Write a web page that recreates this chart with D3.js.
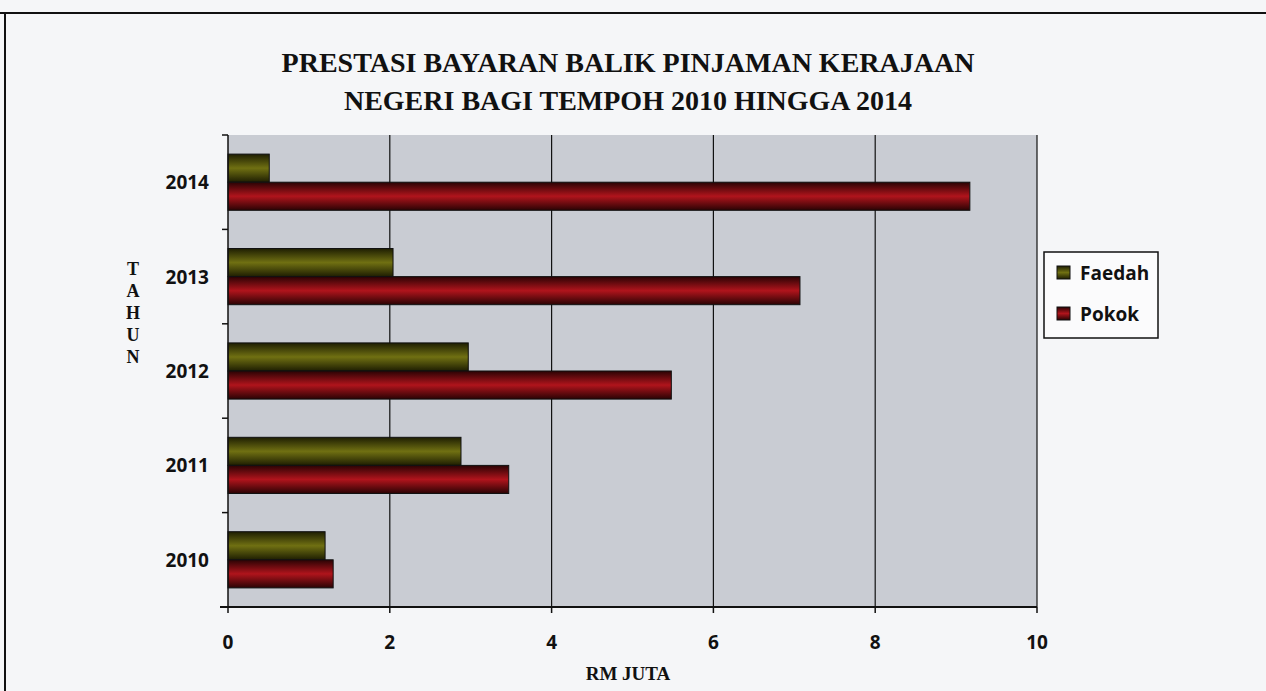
<!DOCTYPE html>
<html>
<head>
<meta charset="utf-8">
<script src="https://cdn.jsdelivr.net/npm/d3@7"></script>
<style>
  body { margin: 0; background: #f5f6f8; }
  svg { display: block; }
</style>
</head>
<body>
<div id="chart"></div>
<script>
// data
var years = ["2014", "2013", "2012", "2011", "2010"],
    series = ["Faedah", "Pokok"],
    faedah = [0.51, 2.04, 2.97, 2.88, 1.2],
    pokok = [9.17, 7.07, 5.48, 3.47, 1.3],
    xTicks = [0, 2, 4, 6, 8, 10];

var width = 1266,
    height = 691;

var plot = {left: 228, right: 1037, top: 135, bottom: 607};

var svg = d3.select("#chart").append("svg")
    .attr("width", width)
    .attr("height", height);

// gradients for the shaded bars
var defs = svg.append("defs");
var grads = {
    Faedah: ["#1e1e02", "#707012", "#1e1e02"],
    Pokok: ["#2a0304", "#b0141c", "#2a0304"]
};
series.forEach(function (s) {
    var g = defs.append("linearGradient")
        .attr("id", "grad_" + s)
        .attr("x1", 0).attr("y1", 0).attr("x2", 0).attr("y2", 1);
    g.append("stop").attr("offset", "0%").attr("stop-color", grads[s][0]);
    g.append("stop").attr("offset", "50%").attr("stop-color", grads[s][1]);
    g.append("stop").attr("offset", "100%").attr("stop-color", grads[s][2]);
});

// outer frame
svg.append("line").attr("x1", 0).attr("x2", width).attr("y1", 13).attr("y2", 13)
    .attr("stroke", "#111").attr("stroke-width", 2);
svg.append("line").attr("x1", 5).attr("x2", 5).attr("y1", 13).attr("y2", height)
    .attr("stroke", "#111").attr("stroke-width", 2);

// title
var title = svg.append("text")
    .attr("text-anchor", "middle")
    .style("font-family", "'Liberation Serif', 'DejaVu Serif', serif")
    .style("font-weight", "bold")
    .style("font-size", "28px")
    .attr("fill", "#111");
title.append("tspan").attr("x", 628).attr("y", 72).text("PRESTASI BAYARAN BALIK PINJAMAN KERAJAAN");
title.append("tspan").attr("x", 628).attr("y", 110).text("NEGERI BAGI TEMPOH 2010 HINGGA 2014");

// scales
var x = d3.scaleLinear().domain([0, 10]).range([plot.left, plot.right]);
var y = d3.scaleBand().domain(years).range([plot.top, plot.bottom]);
var ySub = d3.scaleBand().domain(series)
    .range([0, y.bandwidth()])
    .paddingOuter(0.68);

// plot background
svg.append("rect")
    .attr("x", plot.left).attr("y", plot.top)
    .attr("width", plot.right - plot.left).attr("height", plot.bottom - plot.top)
    .attr("fill", "#c9ccd3");

// vertical grid
svg.append("g").selectAll("line")
    .data(xTicks.slice(1))
    .join("line")
    .attr("x1", d => x(d)).attr("x2", d => x(d))
    .attr("y1", plot.top).attr("y2", plot.bottom)
    .attr("stroke", "#111").attr("stroke-width", 1.2);

// bars
var rows = years.map(function (yr, i) {
    return {year: yr, Faedah: faedah[i], Pokok: pokok[i]};
});

svg.append("g").selectAll("g")
    .data(rows)
    .join("g")
    .attr("transform", d => "translate(0," + y(d.year) + ")")
    .selectAll("rect")
    .data(d => series.map(s => ({key: s, value: d[s]})))
    .join("rect")
    .attr("x", x(0))
    .attr("y", d => ySub(d.key))
    .attr("width", d => x(d.value) - x(0))
    .attr("height", ySub.bandwidth())
    .attr("fill", d => "url(#grad_" + d.key + ")")
    .attr("stroke", "#111")
    .attr("stroke-width", 1);

// y axis
var yAxis = svg.append("g")
    .attr("transform", "translate(" + plot.left + ",0)");
yAxis.append("line")
    .attr("x1", 0).attr("x2", 0).attr("y1", plot.top).attr("y2", plot.bottom)
    .attr("stroke", "#111").attr("stroke-width", 1.5);
var yEdges = years.map(d => y(d)).concat([plot.bottom]);
yAxis.selectAll(".tk").data(yEdges).join("line")
    .attr("class", "tk")
    .attr("x1", -6).attr("x2", 0).attr("y1", d => d).attr("y2", d => d)
    .attr("stroke", "#111").attr("stroke-width", 1.5);
yAxis.selectAll("text").data(years).join("text")
    .attr("x", -19)
    .attr("y", d => y(d) + y.bandwidth() / 2 + 7)
    .attr("text-anchor", "end")
    .style("font-family", "'Open Sans', 'DejaVu Sans', sans-serif")
    .style("font-weight", "bold")
    .style("font-size", "19px")
    .attr("fill", "#111")
    .text(d => d);

// x axis
var xAxis = svg.append("g");
xAxis.append("line")
    .attr("x1", plot.left - 8).attr("x2", plot.right).attr("y1", plot.bottom).attr("y2", plot.bottom)
    .attr("stroke", "#111").attr("stroke-width", 2);
xAxis.selectAll(".tk").data(xTicks).join("line")
    .attr("class", "tk")
    .attr("x1", d => x(d)).attr("x2", d => x(d))
    .attr("y1", plot.bottom).attr("y2", plot.bottom + 6)
    .attr("stroke", "#111").attr("stroke-width", 1.5);
xAxis.selectAll("text").data(xTicks).join("text")
    .attr("x", d => x(d))
    .attr("y", 649)
    .attr("text-anchor", "middle")
    .style("font-family", "'Open Sans', 'DejaVu Sans', sans-serif")
    .style("font-weight", "bold")
    .style("font-size", "19px")
    .attr("fill", "#111")
    .text(d => d);

// axis titles
svg.append("text")
    .attr("x", 628).attr("y", 680)
    .attr("text-anchor", "middle")
    .style("font-family", "'Liberation Serif', serif")
    .style("font-weight", "bold")
    .style("font-size", "19px")
    .attr("fill", "#111")
    .text("RM JUTA");

var tahun = "TAHUN".split("");
svg.append("g").selectAll("text").data(tahun).join("text")
    .attr("x", 133)
    .attr("y", (d, i) => 275 + i * 22)
    .attr("text-anchor", "middle")
    .style("font-family", "'Liberation Serif', serif")
    .style("font-weight", "bold")
    .style("font-size", "18px")
    .attr("fill", "#111")
    .text(d => d);

// legend
var legend = svg.append("g").attr("transform", "translate(1044,252)");
legend.append("rect")
    .attr("width", 114).attr("height", 86)
    .attr("fill", "#fbfbfc").attr("stroke", "#111").attr("stroke-width", 1.5);
series.forEach(function (s, i) {
    var g = legend.append("g").attr("transform", "translate(0," + (i * 41) + ")");
    g.append("rect")
        .attr("x", 13).attr("y", 14).attr("width", 13).attr("height", 13)
        .attr("fill", "url(#grad_" + s + ")").attr("stroke", "#111");
    g.append("text")
        .attr("x", 36).attr("y", 28)
        .style("font-family", "'Open Sans', 'DejaVu Sans', sans-serif")
        .style("font-weight", "bold")
        .style("font-size", "19px")
        .attr("fill", "#111")
        .text(s);
});
</script>
</body>
</html>
